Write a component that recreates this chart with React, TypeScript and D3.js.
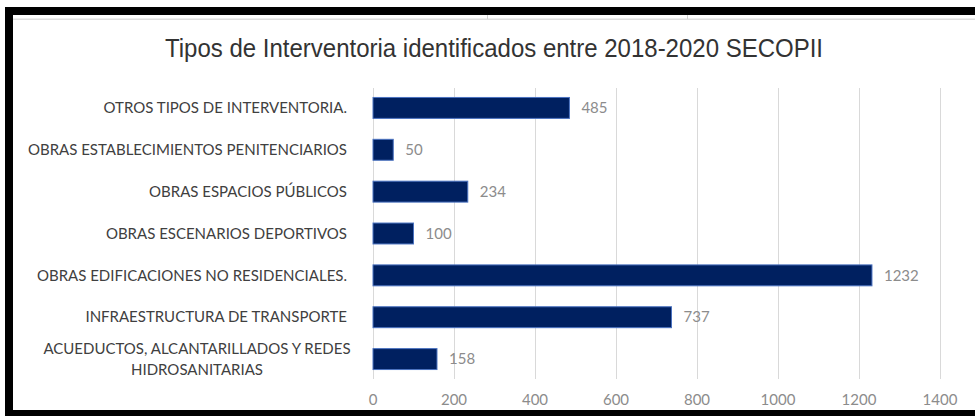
import React, { useRef, useEffect } from 'react';
import * as d3 from 'd3';

// categories, top to bottom as in the chart
const categories = [
  'OTROS TIPOS DE INTERVENTORIA.',
  'OBRAS ESTABLECIMIENTOS PENITENCIARIOS',
  'OBRAS ESPACIOS PÚBLICOS',
  'OBRAS ESCENARIOS DEPORTIVOS',
  'OBRAS EDIFICACIONES NO RESIDENCIALES.',
  'INFRAESTRUCTURA DE TRANSPORTE',
  'ACUEDUCTOS, ALCANTARILLADOS Y REDES\nHIDROSANITARIAS',
];
const values = [485, 50, 234, 100, 1232, 737, 158];
const xTicks = [0, 200, 400, 600, 800, 1000, 1200, 1400];
const title = 'Tipos de Interventoria identificados entre 2018-2020 SECOPII';

const W = 975;
const H = 416;
const labelFont = 'Lato, "Open Sans", sans-serif';

const App = () => {
  const svgRef = useRef<SVGSVGElement | null>(null);

  useEffect(() => {
    if (!svgRef.current) return;
    const svg = d3.select(svgRef.current);
    svg.selectAll('*').remove();

    svg.append('rect').attr('width', W).attr('height', H).attr('fill', '#ffffff');

    // frame of the screenshot
    svg.append('rect').attr('x', 13).attr('y', 18.5).attr('width', W - 13).attr('height', 1.5).attr('fill', '#dedede');
    [487, 687].forEach(x => {
      svg.append('line')
        .attr('x1', x + 0.5).attr('x2', x + 0.5).attr('y1', 15).attr('y2', 19)
        .attr('stroke', '#d0d0d0');
    });
    svg.append('rect').attr('x', 5).attr('y', 7).attr('width', W - 5).attr('height', 8).attr('fill', '#000');
    svg.append('rect').attr('x', 5).attr('y', 7).attr('width', 8).attr('height', H - 7).attr('fill', '#000');
    svg.append('rect').attr('x', 5).attr('y', 410).attr('width', W - 5).attr('height', 6).attr('fill', '#000');

    const x = d3.scaleLinear().domain([0, 1400]).range([373, 940]);
    const y = d3.scaleBand<string>()
      .domain(categories)
      .range([87, 380])
      .paddingInner(0.5)
      .paddingOuter(0.25);

    // title (narrow face in the original, squeezed to its width)
    svg.append('text')
      .attr('x', 165)
      .attr('y', 57)
      .attr('font-family', '"Liberation Sans Narrow", "Liberation Sans", Arial, sans-serif')
      .attr('font-size', 25.5)
      .attr('textLength', 658)
      .attr('lengthAdjust', 'spacingAndGlyphs')
      .attr('fill', '#333333')
      .text(title);

    // grid
    svg.append('g')
      .selectAll('line')
      .data(xTicks)
      .join('line')
      .attr('x1', d => Math.round(x(d)) + 0.5)
      .attr('x2', d => Math.round(x(d)) + 0.5)
      .attr('y1', 88)
      .attr('y2', 379)
      .attr('stroke', '#d9d9d9')
      .attr('stroke-width', 1);

    // x tick labels
    svg.append('g')
      .selectAll('text')
      .data(xTicks)
      .join('text')
      .attr('x', d => x(d))
      .attr('y', 405)
      .attr('text-anchor', 'middle')
      .attr('font-family', labelFont)
      .attr('font-size', 15)
      .attr('fill', '#8c8c8c')
      .text(d => d);

    // bars
    svg.append('g')
      .selectAll('rect')
      .data(values)
      .join('rect')
      .attr('x', x(0))
      .attr('y', (_, i) => y(categories[i]) as number)
      .attr('width', d => x(d) - x(0))
      .attr('height', y.bandwidth())
      .attr('fill', '#002060')
      .attr('stroke', '#4a72c0')
      .attr('stroke-width', 1);

    // value labels
    svg.append('g')
      .selectAll('text')
      .data(values)
      .join('text')
      .attr('x', d => x(d) + 12)
      .attr('y', (_, i) => (y(categories[i]) as number) + y.bandwidth() / 2)
      .attr('dy', '0.35em')
      .attr('font-family', labelFont)
      .attr('font-size', 15)
      .attr('fill', '#8c8c8c')
      .text(d => d);

    // category labels
    const cat = svg.append('g')
      .selectAll('text')
      .data(categories)
      .join('text')
      .attr('font-family', labelFont)
      .attr('font-size', 15)
      .attr('fill', '#404040');

    cat.each(function (d) {
      const t = d3.select(this);
      const lines = d.split('\n');
      const cy = (y(d) as number) + y.bandwidth() / 2;
      if (lines.length === 1) {
        t.attr('x', 347).attr('y', cy).attr('dy', '0.35em').attr('text-anchor', 'end').text(d);
      } else {
        t.attr('text-anchor', 'middle');
        lines.forEach((ln, i) => {
          t.append('tspan')
            .attr('x', 197)
            .attr('y', cy + (i - (lines.length - 1) / 2) * 20.6)
            .attr('dy', '0.35em')
            .text(ln);
        });
      }
    });
  }, []);

  return (
    <svg
      ref={svgRef}
      width={W}
      height={H}
      style={{ position: 'absolute', left: 0, top: 0, display: 'block' }}
    />
  );
};

export default App;
